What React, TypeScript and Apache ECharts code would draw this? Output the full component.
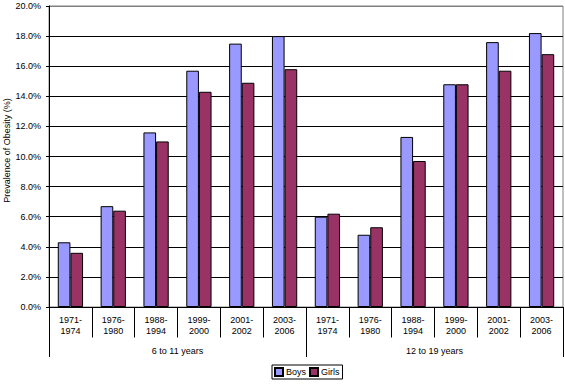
import React, { useEffect, useRef } from "react";
import * as echarts from "echarts";

const periods = ["1971-\n1974", "1976-\n1980", "1988-\n1994", "1999-\n2000", "2001-\n2002", "2003-\n2006"];
const ageGroups = ["6 to 11 years", "12 to 19 years"];
const boys = [4.3, 6.7, 11.6, 15.7, 17.5, 18.0, 6.0, 4.8, 11.3, 14.8, 17.6, 18.2];
const girls = [3.6, 6.4, 11.0, 14.3, 14.9, 15.8, 6.2, 5.3, 9.7, 14.8, 15.7, 16.8];
const yTicks = [0, 2, 4, 6, 8, 10, 12, 14, 16, 18, 20];

const FONT = "Liberation Sans, Arial, sans-serif";

export default function App() {
  const ref = useRef<HTMLDivElement>(null);
  useEffect(() => {
    if (!ref.current) return;
    const chart = echarts.init(ref.current, null, { renderer: "svg" });
    const categories = ageGroups.flatMap(() => periods);
    const splitColors = yTicks.map((t, i) => (i === yTicks.length - 1 ? "#808080" : "#000000"));
    chart.setOption({
      animation: false,
      backgroundColor: "#ffffff",
      textStyle: { fontFamily: FONT, color: "#000" },
      grid: {
        left: 49,
        right: 2,
        top: 6,
        bottom: 79,
        show: true,
        borderColor: "#808080",
        borderWidth: 1,
        containLabel: false,
      },
      legend: {
        left: 272,
        top: 365,
        orient: "horizontal",
        itemWidth: 8,
        itemHeight: 8,
        itemGap: 3,
        padding: [2, 3, 2, 2],
        borderColor: "#000",
        borderWidth: 1,
        icon: "rect",
        textStyle: { fontFamily: FONT, fontSize: 9, color: "#000", padding: [0, 0, 0, -2] },
        data: ["Boys", "Girls"],
      },
      xAxis: [
        {
          type: "category",
          data: categories,
          position: "bottom",
          axisLine: { show: true, lineStyle: { color: "#000", width: 1 } },
          axisTick: { show: true, interval: 0, length: 30.5, lineStyle: { color: "#000" } },
          axisLabel: {
            interval: 0,
            margin: 8,
            fontSize: 9,
            lineHeight: 10.5,
            color: "#000",
            fontFamily: FONT,
          },
          splitLine: { show: false },
        },
        {
          type: "category",
          data: ageGroups,
          position: "bottom",
          offset: 0,
          axisLine: { show: true, lineStyle: { color: "#000", width: 1 } },
          axisTick: { show: true, interval: 0, length: 50, lineStyle: { color: "#000" } },
          axisLabel: {
            interval: 0,
            margin: 39,
            fontSize: 9,
            color: "#000",
            fontFamily: FONT,
          },
          splitLine: { show: false },
        },
      ],
      yAxis: {
        type: "value",
        min: 0,
        max: 20,
        interval: 2,
        axisLine: { show: true, lineStyle: { color: "#000", width: 1 } },
        axisTick: { show: true, length: 3, lineStyle: { color: "#000" } },
        axisLabel: {
          margin: 8,
          fontSize: 9,
          color: "#000",
          fontFamily: FONT,
          formatter: (v: number) => v.toFixed(1) + "%",
        },
        splitLine: { show: true, lineStyle: { color: splitColors, width: 1 } },
      },
      graphic: [
        {
          type: "text",
          x: 7,
          y: 150.5,
          rotation: Math.PI / 2,
          style: {
            text: "Prevalence of Obesity (%)",
            font: `9px ${FONT}`,
            fill: "#000",
            align: "center",
            verticalAlign: "middle",
          },
        },
      ],
      series: [
        {
          name: "Boys",
          type: "bar",
          xAxisIndex: 0,
          data: boys,
          barGap: "0%",
          barCategoryGap: "41%",
          itemStyle: { color: "#9999FF", borderColor: "#000", borderWidth: 1 },
        },
        {
          name: "Girls",
          type: "bar",
          xAxisIndex: 0,
          data: girls,
          barGap: "0%",
          barCategoryGap: "41%",
          itemStyle: { color: "#993366", borderColor: "#000", borderWidth: 1 },
        },
      ],
    });
    return () => chart.dispose();
  }, []);
  return <div ref={ref} style={{ width: 565, height: 386, position: "absolute", left: 0, top: 0 }} />;
}
